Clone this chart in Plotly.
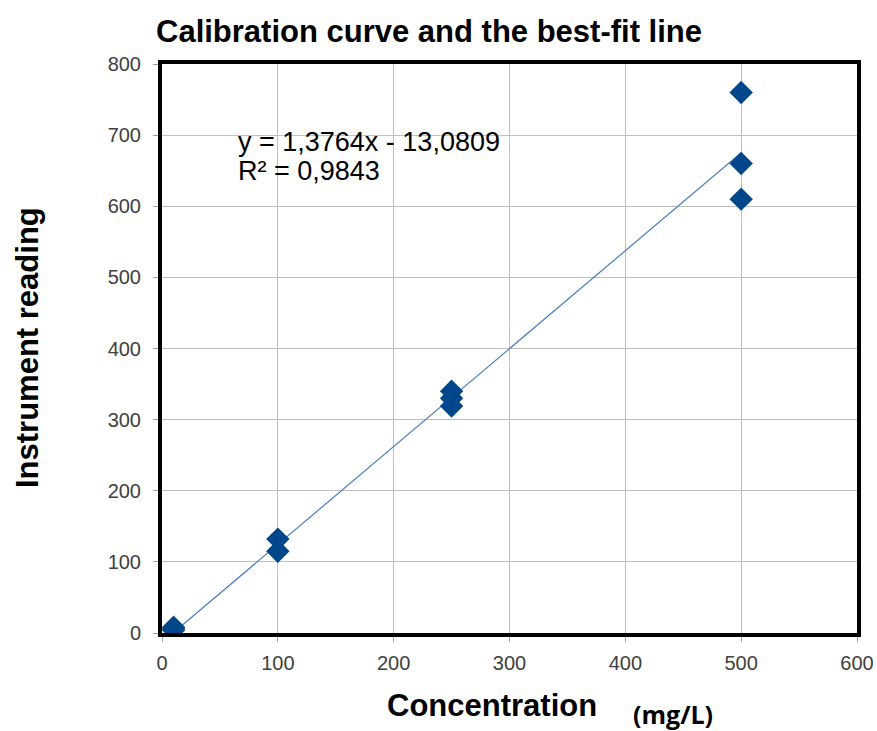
import plotly.graph_objects as go

# Data
concentration = [10, 10, 10, 100, 100, 250, 250, 250, 500, 500, 500]
reading = [4, 6, 8, 115, 132, 319, 330, 340, 610, 660, 760]
slope = 1.3764
intercept = -13.0809
x_ticks = [0, 100, 200, 300, 400, 500, 600]
y_ticks = [0, 100, 200, 300, 400, 500, 600, 700, 800]

x_fit = [min(concentration), max(concentration)]
y_fit = [slope * v + intercept for v in x_fit]

fig = go.Figure()
fig.add_trace(go.Scatter(x=x_fit, y=y_fit, mode="lines",
                         line=dict(color="#4a7ebb", width=1.2),
                         showlegend=False, hoverinfo="skip"))
fig.add_trace(go.Scatter(x=concentration, y=reading, mode="markers",
                         marker=dict(symbol="diamond", size=18, color="#00468b",
                                     line=dict(width=0)),
                         showlegend=False))

tickfont = dict(family="Liberation Sans, Arial", size=20, color="#404040")
fig.update_xaxes(range=[0, 600], tickvals=x_ticks, showgrid=True, gridcolor="#c0c0c0",
                 gridwidth=1, zeroline=False, showline=True, mirror=True,
                 linecolor="black", linewidth=4, ticks="outside", ticklen=5,
                 tickcolor="#a0a0a0", tickfont=tickfont, ticklabelstandoff=4,
                 automargin=False)
fig.update_yaxes(range=[0, 800], tickvals=y_ticks, showgrid=True, gridcolor="#c0c0c0",
                 gridwidth=1, zeroline=False, showline=True, mirror=True,
                 linecolor="black", linewidth=4, ticks="outside", ticklen=5,
                 tickcolor="#a0a0a0", tickfont=tickfont, ticklabelstandoff=8,
                 automargin=False)

annots = [
    dict(text="<b>Calibration curve and the best-fit line</b>", x=429, y=32,
         font=dict(family="Liberation Sans, Arial", size=31, color="black")),
    dict(text="<b>Instrument reading</b>", x=27, y=348, textangle=-90,
         font=dict(family="Liberation Sans, Arial", size=31, color="black")),
    dict(text="<b>Concentration</b>", x=492, y=705,
         font=dict(family="Liberation Sans, Arial", size=31, color="black")),
    dict(text="<b>(mg/L)</b>", x=673, y=714,
         font=dict(family="Open Sans", size=25, color="black")),
]
W, H = 877, 731
for a in annots:
    fig.add_annotation(text=a["text"], xref="paper", yref="paper",
                       x=(a["x"] - 162) / (857 - 162), y=(633 - a["y"]) / (633 - 64),
                       xanchor="center", yanchor="middle", showarrow=False,
                       textangle=a.get("textangle", 0), font=a["font"])

eq_font = dict(family="Liberation Sans, Arial", size=27, color="black")
fig.add_annotation(text="y = 1,3764x - 13,0809", x=64, y=691, xref="x", yref="y",
                   xanchor="left", yanchor="middle", showarrow=False, font=eq_font)
fig.add_annotation(text="R² = 0,9843", x=64, y=649, xref="x", yref="y",
                   xanchor="left", yanchor="middle", showarrow=False, font=eq_font)

fig.update_layout(width=W, height=H, margin=dict(l=162, r=20, t=64, b=98),
                  plot_bgcolor="white", paper_bgcolor="white")

fig.write_html("out.html", config={"displayModeBar": False},
               post_script="document.body.style.margin='0';document.body.style.overflow='hidden';")
